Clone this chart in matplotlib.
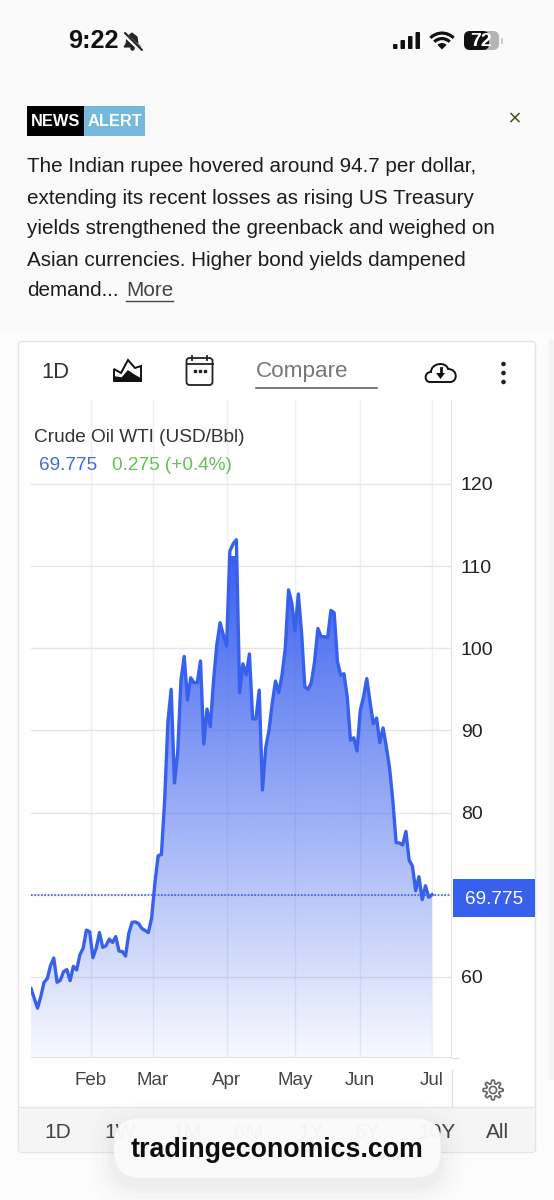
import numpy as np
import matplotlib
matplotlib.use("Agg")
from matplotlib import pyplot as plt
from matplotlib.patches import Rectangle, FancyBboxPatch, Circle, Polygon, Wedge, PathPatch
from matplotlib.path import Path

plt.rcParams["font.family"] = ["Liberation Sans", "DejaVu Sans"]

W, H = 554, 1200

# values, one per trading session
prices = [
    58.6, 57.4, 56.2, 57.6, 59.35, 59.8, 61.4, 62.3, 59.35, 59.6,
    60.65, 60.9, 59.55, 61.3, 60.85, 62.7, 63.5, 65.7, 65.5, 62.35,
    63.5, 65.4, 63.6, 63.8, 64.6, 64.2, 64.9, 63.15, 63.1, 62.55,
    65.3, 66.65, 66.7, 66.5, 65.9, 65.65, 65.4, 67.15, 71.4, 74.75,
    74.9, 81.5, 91.1, 95.0, 83.6, 87.3, 96.1, 99.0, 93.7, 96.4,
    95.8, 95.8, 98.45, 88.35, 92.6, 90.45, 96.1, 100.4, 103.1, 101.6,
    100.3, 111.8, 112.7, 113.2, 94.6, 98.1, 96.75, 99.3, 91.4, 91.4,
    94.9, 82.75, 87.9, 90.0, 93.3, 96.0, 94.6, 96.75, 100.0, 107.1,
    105.5, 102.1, 106.6, 101.9, 95.3, 95.0, 95.8, 98.4, 102.4, 101.4,
    101.4, 101.3, 104.6, 104.3, 98.4, 96.7, 96.9, 94.1, 88.8, 89.1,
    87.5, 92.4, 94.1, 96.3, 93.5, 90.8, 91.5, 88.5, 90.3, 88.0,
    85.4, 81.4, 76.35, 76.3, 76.05, 77.7, 74.2, 73.5, 70.5, 72.2,
    69.4, 71.1, 69.7, 70.0,
]
month_pos = [18.3, 37.3, 60, 81, 101, 123]
month_labels = ["Feb", "Mar", "Apr", "May", "Jun", "Jul"]
y_ticks = [60, 70, 80, 90, 100, 110, 120]
y_labels = ["60", "", "80", "90", "100", "110", "120"]
dotted_level = 70.0
last_price = "69.775"
change_text = "0.275 (+0.4%)"
ranges = ["1D", "1W", "1M", "6M", "1Y", "5Y", "10Y", "All"]
range_x = [58, 120, 187, 249, 311, 367, 437, 498]
news_lines = [
    "The Indian rupee hovered around 94.7 per dollar,",
    "extending its recent losses as rising US Treasury",
    "yields strengthened the greenback and weighed on",
    "Asian currencies. Higher bond yields dampened",
    "demand...",
]

BLUE = "#3860ee"

fig = plt.figure(figsize=(W / 100, H / 100), dpi=100, facecolor="#fcfcfc")

# page layer in pixel coordinates
bg = fig.add_axes([0, 0, 1, 1], zorder=0)
bg.set_xlim(0, W)
bg.set_ylim(H, 0)
bg.axis("off")

# top layer, also in pixels, for what sits above the chart
top = fig.add_axes([0, 0, 1, 1], zorder=5)
top.set_xlim(0, W)
top.set_ylim(H, 0)
top.axis("off")
top.patch.set_alpha(0)

bg.add_patch(Rectangle((0, 0), W, 331, fc="#fafafa", ec="none"))
bg.add_patch(Rectangle((549, 340), 5, 740, fc="#f3f3f3", ec="none"))

# status bar
bg.text(68, 41.5, "9:22", fontsize=18.2, fontweight="bold", color="#111", va="center")
bell = Path(
    [(124, 47), (126, 44), (127, 37), (132, 33), (137, 37), (138, 44), (141, 47), (124, 47)],
)
bg.add_patch(PathPatch(bell, fc="#222", ec="#222", lw=0.8))
bg.add_patch(Circle((132.5, 48.5), 2.2, fc="#222", ec="none"))
bg.plot([123, 142], [33, 51], color="#fafafa", lw=3.2, solid_capstyle="round")
bg.plot([125, 142], [33, 50], color="#222", lw=1.5, solid_capstyle="round")
for i, h_bar in enumerate([5, 9, 13, 17]):
    bg.add_patch(FancyBboxPatch((393 + i * 7.5, 49 - h_bar), 4.5, h_bar,
                                boxstyle="round,pad=0,rounding_size=1", fc="#111", ec="none"))
bg.add_patch(Wedge((442, 49.5), 6.5, 225, 315, fc="#111", ec="none"))
bg.add_patch(Wedge((442, 49.5), 12.5, 225, 315, width=3.2, fc="#111", ec="none"))
bg.add_patch(Wedge((442, 49.5), 18, 225, 315, width=3.2, fc="#111", ec="none"))
bg.add_patch(FancyBboxPatch((464, 31), 35, 19, boxstyle="round,pad=0,rounding_size=6", fc="#b5b5b5", ec="none"))
bg.add_patch(FancyBboxPatch((464, 31), 25, 19, boxstyle="round,pad=0,rounding_size=6", fc="#111", ec="none"))
bg.add_patch(Rectangle((501, 38), 1.5, 6, fc="#cccccc", ec="none"))
bg.text(481, 41, "72", fontsize=14, fontweight="bold", color="white", ha="center", va="center")

# news alert
bg.add_patch(Rectangle((27, 106), 57, 30, fc="black", ec="none"))
bg.add_patch(Rectangle((84, 106), 61, 30, fc="#74b8dc", ec="none"))
bg.text(55.5, 121.5, "NEWS", fontsize=11.8, fontweight="bold", color="white", ha="center", va="center")
bg.text(114.5, 121.5, "ALERT", fontsize=11.8, fontweight="bold", color="white", ha="center", va="center")
bg.plot([511, 519], [113.5, 121.5], color="#4a4a20", lw=1.1)
bg.plot([511, 519], [121.5, 113.5], color="#4a4a20", lw=1.1)
for i, line in enumerate(news_lines):
    bg.text(27, 167 + i * 31, line, fontsize=14.9, color="#1c1c1c", va="center")
bg.text(126, 291, "More", fontsize=14.9, color="#444", va="center")
bg.plot([126, 172.5], [300.5, 300.5], color="#444", lw=1)

# chart card
bg.add_patch(FancyBboxPatch((18.5, 341.5), 517, 811, boxstyle="round,pad=0,rounding_size=4",
                            fc="white", ec="#e4e4e4", lw=1))
bg.add_patch(FancyBboxPatch((19, 1107), 516, 45, boxstyle="round,pad=0,rounding_size=3",
                            fc="#f5f5f6", ec="none"))
bg.plot([19, 535], [1107, 1107], color="#e6e6e6", lw=1)

# toolbar
bg.text(55.5, 372, "1D", fontsize=15.8, color="#333", ha="center", va="center")
bg.add_patch(Polygon([(114, 381), (114, 369), (121, 373), (128, 360), (135, 368), (141, 366), (141, 381)],
                     fc="white", ec="#111", lw=1.4))
bg.add_patch(Polygon([(115, 381), (115, 377), (122, 378), (128, 371), (134, 375), (141, 379), (141, 381)],
                     fc="#111", ec="#111", lw=1))
bg.add_patch(FancyBboxPatch((186.5, 358), 26, 27, boxstyle="round,pad=0,rounding_size=3",
                            fc="none", ec="#222", lw=1.3))
bg.plot([186.5, 212.5], [364, 364], color="#222", lw=1.3)
bg.plot([192, 192], [355.5, 360], color="#222", lw=1.3)
bg.plot([207, 207], [355.5, 360], color="#222", lw=1.3)
bg.plot([194.5, 199.5, 204.5], [371, 371, 371], ls="none", marker="s", ms=2, color="#222")
bg.text(256, 372, "Compare", fontsize=16.2, color="#777", va="center")
bg.plot([256, 377], [388, 388], color="#555", lw=1.1)
cloud = Path(
    [(430, 382), (424, 382), (424, 372), (431, 372), (431, 363), (446, 361), (448, 369),
     (458, 369), (458, 382), (450, 382), (430, 382)],
    [Path.MOVETO, Path.CURVE4, Path.CURVE4, Path.CURVE4, Path.CURVE4, Path.CURVE4, Path.CURVE4,
     Path.CURVE4, Path.CURVE4, Path.CURVE4, Path.LINETO],
)
bg.add_patch(PathPatch(cloud, fc="white", ec="#111", lw=1.4))
bg.add_patch(Polygon([(436, 373), (445, 373), (440.5, 379)], fc="#111", ec="none"))
bg.plot([440.5, 440.5], [368, 374], color="#111", lw=2)
for y_dot in [364, 373, 382]:
    bg.add_patch(Circle((503.5, y_dot), 2.3, fc="#222", ec="none"))

# chart axes, placed so that 31..451 px and 400..1057 px are the plot box
x_right = (451 - 31) / 3.26
ax = fig.add_axes([31 / W, 1 - 1057 / H, (451 - 31) / W, (1057 - 400) / H], zorder=2)
ax.patch.set_alpha(0)

days = np.arange(len(prices))
grad = np.linspace(1.0, 0.04, 256).reshape(-1, 1)
rgba = np.zeros((256, 1, 4))
rgba[..., 0] = 0x3a / 255
rgba[..., 1] = 0x60 / 255
rgba[..., 2] = 0xee / 255
rgba[..., 3] = grad
im = ax.imshow(rgba, extent=[0, days[-1], 50.26, max(prices) - 2], aspect="auto", origin="upper", zorder=2)
ax.set_xlim(0, x_right)
ax.set_ylim(50.26, 130.2)
clip_path = Path(
    np.vstack([[days[0], 50.26], np.column_stack([days, prices]), [days[-1], 50.26]])
)
im.set_clip_path(PathPatch(clip_path, transform=ax.transData))

ax.plot(days, prices, color=BLUE, lw=2.4, zorder=4, solid_joinstyle="round")
ax.axhline(dotted_level, color=BLUE, lw=1.2, ls=(0, (1, 1)), zorder=3)

ax.set_xticks(month_pos)
ax.set_xticklabels(month_labels, fontsize=13.5, color="#444")
ax.set_yticks(y_ticks)
ax.set_yticklabels(y_labels, fontsize=14, color="#222")
ax.yaxis.tick_right()
ax.tick_params(axis="x", length=0, pad=11)
ax.tick_params(axis="y", length=0, pad=7)
ax.grid(axis="x", color="#eceff4", lw=1, zorder=1)
ax.grid(axis="y", color="#e6e6e6", lw=1, zorder=1)
ax.set_axisbelow(True)
for name in ["top", "left"]:
    ax.spines[name].set_visible(False)
ax.spines["right"].set_color("#e2e2e2")
ax.spines["bottom"].set_color("#e2e2e2")

# lower piece of the price axis and the chart legend
bg.plot([451.5, 451.5], [1070, 1107], color="#e2e2e2", lw=1)
bg.plot([451, 458], [1057.5, 1057.5], color="#e2e2e2", lw=1)
top.text(34, 437.5, "Crude Oil WTI (USD/Bbl)", fontsize=13.65, color="#333", va="center")
top.text(38.5, 465.5, last_price, fontsize=13.6, color="#4468e0", va="center")
top.text(112, 465.5, change_text, fontsize=13.7, color="#64c257", va="center")
top.add_patch(Rectangle((453, 879), 82, 38, fc=BLUE, ec="none"))
top.text(494, 899, last_price, fontsize=13.6, color="white", ha="center", va="center")

# settings gear
angles = np.linspace(0, 2 * np.pi, 97)
gear_r = 8.2 + 1.7 * np.tanh(3 * np.cos(8 * angles))
top.plot(493 + gear_r * np.cos(angles), 1090 + gear_r * np.sin(angles), color="#666", lw=1.2)
top.add_patch(Circle((493, 1090), 3.6, fc="none", ec="#666", lw=1.2))

# range buttons, mostly hidden behind the pill
for label, x_lab in zip(ranges, range_x):
    col = "#3f66e0" if label == "6M" else "#444"
    top.text(x_lab, 1133, label, fontsize=15, color=col, ha="center", va="center", zorder=3)

# address pill with a soft shadow
for pad, alpha in zip([24, 18, 12, 7, 3], [0.006, 0.008, 0.01, 0.012, 0.015]):
    top.add_patch(FancyBboxPatch((114 - pad, 1118 - pad + 8), 327 + 2 * pad, 60 + 2 * pad,
                                 boxstyle=f"round,pad=0,rounding_size={26 + pad}",
                                 fc="black", ec="none", alpha=alpha, zorder=4))
top.add_patch(FancyBboxPatch((114, 1118), 327, 60, boxstyle="round,pad=0,rounding_size=26",
                             fc="#fbfbfb", ec="#f0f0f0", lw=0.8, alpha=0.965, zorder=5))
top.text(277, 1150, "tradingeconomics.com", fontsize=19.3, fontweight="bold", color="#0d0d0d",
         ha="center", va="center", zorder=6)

fig.savefig("out.png", dpi=100)
